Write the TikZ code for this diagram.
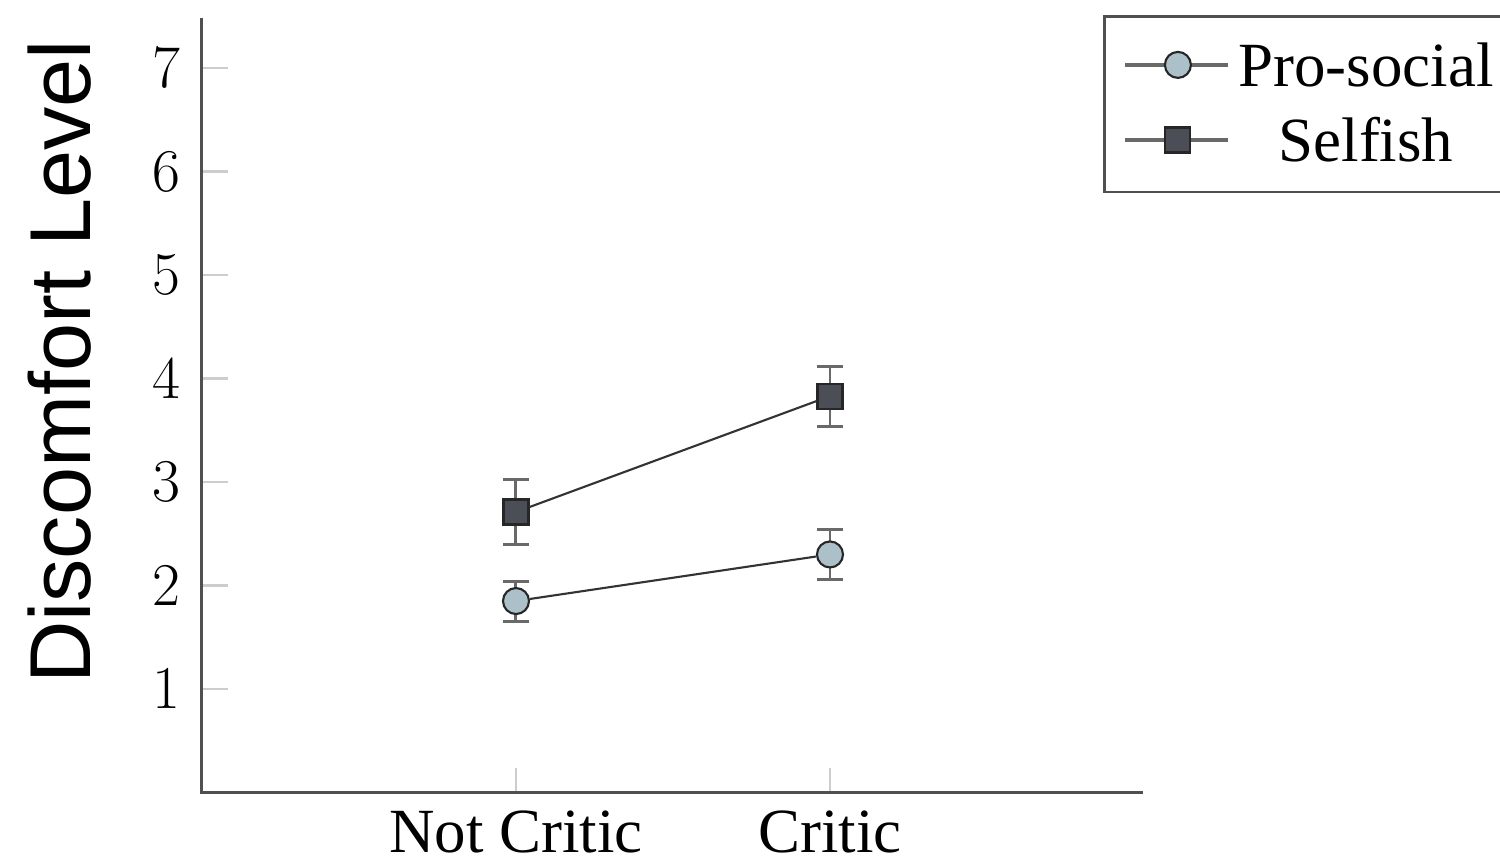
\documentclass[tikz,border=0pt]{standalone}
\usepackage{fontspec}
\usepackage{xcolor}
\usetikzlibrary{positioning}
\newfontfamily\timesfont{Liberation Serif}
\newfontfamily\helvfont{Liberation Sans}
\definecolor{prosocialfill}{RGB}{172,192,202}
\definecolor{selfishfill}{RGB}{76,78,87}
\definecolor{axisgray}{RGB}{80,80,80}
\definecolor{tickgray}{RGB}{205,205,205}
\definecolor{bargray}{RGB}{105,105,105}
\tikzset{
  prosocial/.style={
    shape = circle,
    draw = black!85,
    fill = prosocialfill,
    line width = 0.6pt,
    minimum size = 0.26cm,
    inner sep = 0pt
  },
}
\tikzset{
  selfish/.style={
    shape = rectangle,
    draw = black!85,
    fill = selfishfill,
    line width = 0.6pt,
    minimum size = 0.25cm,
    inner sep = 0pt
  },
}
\tikzset{
  errbar/.style={draw=bargray, line width=0.85pt},
  dataline/.style={draw=black!80, line width=0.6pt},
  axisline/.style={draw=axisgray, line width=0.85pt},
  tickline/.style={draw=tickgray, line width=0.7pt},
  ticklabel/.style={
    font = \fontsize{17.6}{18}\selectfont,
    inner sep = 0pt
  },
  catlabel/.style={
    font = \timesfont\fontsize{17.9}{19}\selectfont,
    inner sep = 0pt
  },
  ylabel/.style={
    font = \helvfont\fontsize{24.6}{26}\selectfont,
    inner sep = 0pt,
    rotate = 90
  }
}

\begin{document}
\begin{tikzpicture}[x=3.14cm, y=1.035cm]
        \useasboundingbox (-0.6433,-0.6425) rectangle (4.1338,7.657);

        % ticks
        \draw[tickline] (0,1)--++(0.083,0);
        \draw[tickline] (0,2)--++(0.083,0);
        \draw[tickline] (0,3)--++(0.083,0);
        \draw[tickline] (0,4)--++(0.083,0);
        \draw[tickline] (0,5)--++(0.083,0);
        \draw[tickline] (0,6)--++(0.083,0);
        \draw[tickline] (0,7)--++(0.083,0);
        \draw[tickline] (1,0)--++(0,0.24);
        \draw[tickline] (2,0)--++(0,0.24);

        % axes
        \draw[axisline] (0,7.483)--(0,0)--(2.997,0);

        \node[ticklabel, anchor=east] (t1) at (-0.068,1) {$1$};
        \node[ticklabel, anchor=east] (t2) at (-0.068,2) {$2$};
        \node[ticklabel, anchor=east] (t3) at (-0.068,3) {$3$};
        \node[ticklabel, anchor=east] (t4) at (-0.068,4) {$4$};
        \node[ticklabel, anchor=east] (t5) at (-0.068,5) {$5$};
        \node[ticklabel, anchor=east] (t6) at (-0.068,6) {$6$};
        \node[ticklabel, anchor=east] (t7) at (-0.068,7) {$7$};
        \node[catlabel, anchor=base] (notcritic) at (1,-0.575) {Not Critic};
        \node[catlabel, anchor=base] (critic) at (2,-0.575) {Critic};
        \node[ylabel] (discomfort) at (-0.452,4.159) {Discomfort Level};

        % error bars
        \draw[errbar] (1,1.65)--(1,2.04) (0.959,1.65)--++(0.082,0) (0.959,2.04)--++(0.082,0);
        \draw[errbar] (2,2.06)--(2,2.54) (1.959,2.06)--++(0.082,0) (1.959,2.54)--++(0.082,0);
        \draw[errbar] (1,2.40)--(1,3.02) (0.959,2.40)--++(0.082,0) (0.959,3.02)--++(0.082,0);
        \draw[errbar] (2,3.54)--(2,4.12) (1.959,3.54)--++(0.082,0) (1.959,4.12)--++(0.082,0);

        % data
        \node[prosocial] (pro1) at (1,1.85) {};
        \node[prosocial] (pro2) at (2,2.30) {};
        \node[selfish] (self1) at (1,2.71) {};
        \node[selfish] (self2) at (2,3.83) {};
        \draw[dataline] (pro1)--(pro2);
        \draw[dataline] (self1)--(self2);

        % legend
        \draw[axisline] (4.16,7.493)--(2.873,7.493)--(2.873,5.802)--(4.16,5.802);
        \coordinate (lega) at (2.939,7.03);
        \coordinate (legb) at (3.268,7.03);
        \coordinate (legc) at (2.939,6.304);
        \coordinate (legd) at (3.268,6.304);
        \draw[errbar, line width=1pt] (lega)--(legb);
        \draw[errbar, line width=1pt] (legc)--(legd);
        \node[prosocial] (legpro) at (3.108,7.03) {};
        \node[selfish] (legself) at (3.108,6.304) {};
        \node[catlabel] (prolabel) at (3.707,7.03) {Pro-social};
        \node[catlabel] (selflabel) at (3.707,6.304) {Selfish};
    \end{tikzpicture}
\end{document}
